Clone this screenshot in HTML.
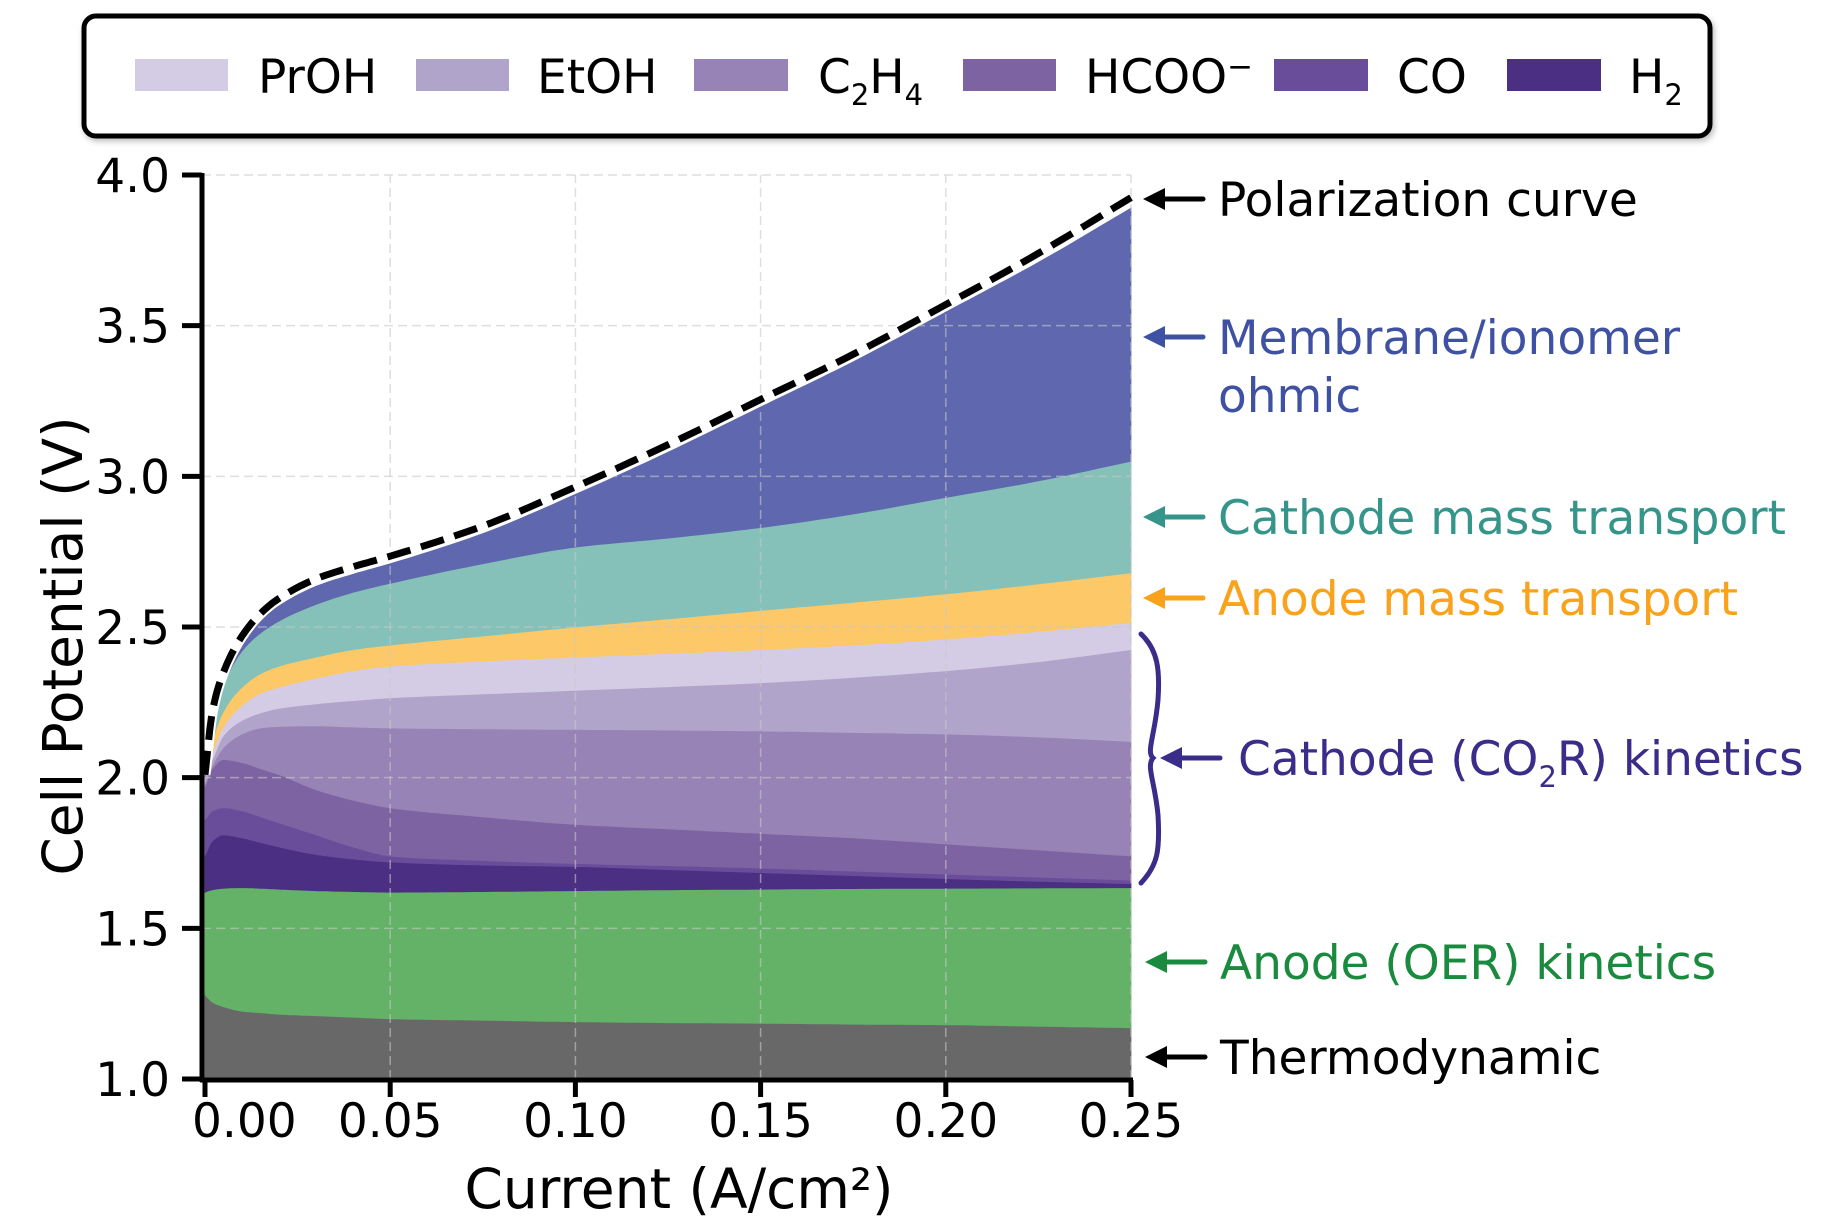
<!DOCTYPE html>
<html><head><meta charset="utf-8">
<style>
html,body{margin:0;padding:0;background:#fff;}
svg{display:block;font-family:"DejaVu Sans","Liberation Sans",sans-serif;}
</style></head>
<body>
<svg id="chart" width="1827" height="1221" viewBox="0 0 1827 1221" xmlns="http://www.w3.org/2000/svg">
  <defs>
    <filter id="shadow" x="-5%" y="-20%" width="110%" height="150%">
      <feDropShadow dx="2" dy="3" stdDeviation="3" flood-color="#000" flood-opacity="0.25"/>
    </filter>
  </defs>
  <g id="areas"></g>
  <g id="grid"></g>
  <g id="pol"></g>
  <g id="axes"></g>

  <!-- Legend -->
  <g>
    <rect x="84" y="16" width="1626" height="120" rx="12" ry="12" fill="#fff" stroke="#000" stroke-width="5" filter="url(#shadow)"/>
    <g font-size="47" fill="#000">
      <rect x="135" y="59" width="93" height="32" fill="#d4cce4"/>
      <text x="258" y="93">PrOH</text>
      <rect x="416" y="59" width="93" height="32" fill="#b1a4cb"/>
      <text x="537" y="93">EtOH</text>
      <rect x="694" y="59" width="94" height="32" fill="#9783b5"/>
      <text x="818" y="93">C<tspan font-size="29" dy="12">2</tspan><tspan dy="-12">H</tspan><tspan font-size="29" dy="12">4</tspan></text>
      <rect x="963" y="59" width="93" height="32" fill="#7e63a3"/>
      <text x="1085" y="93">HCOO<tspan font-size="31" dy="-16">−</tspan></text>
      <rect x="1274" y="59" width="94" height="32" fill="#6a4d9a"/>
      <text x="1397" y="93">CO</text>
      <rect x="1507" y="59" width="94" height="32" fill="#4b2f83"/>
      <text x="1629" y="93">H<tspan font-size="29" dy="12">2</tspan></text>
    </g>
  </g>

  <!-- Annotations -->
  <g font-size="47">
    <g>
      <line x1="1160" y1="199" x2="1203" y2="199" stroke="#000" stroke-width="5" stroke-linecap="round"/>
      <polygon points="1143,199 1165,188 1165,210" fill="#000"/>
      <text x="1218" y="216" fill="#000">Polarization curve</text>
    </g>
    <g fill="#3f51a3">
      <line x1="1160" y1="337" x2="1203" y2="337" stroke="#3f51a3" stroke-width="5" stroke-linecap="round"/>
      <polygon points="1143,337 1165,326 1165,348"/>
      <text x="1218" y="354">Membrane/ionomer</text>
      <text x="1218" y="412">ohmic</text>
    </g>
    <g fill="#35958a">
      <line x1="1160" y1="517" x2="1203" y2="517" stroke="#35958a" stroke-width="5" stroke-linecap="round"/>
      <polygon points="1143,517 1165,506 1165,528"/>
      <text x="1218" y="534">Cathode mass transport</text>
    </g>
    <g fill="#f9a21b">
      <line x1="1160" y1="598" x2="1203" y2="598" stroke="#f9a21b" stroke-width="5" stroke-linecap="round"/>
      <polygon points="1143,598 1165,587 1165,609"/>
      <text x="1218" y="615">Anode mass transport</text>
    </g>
    <g fill="#3a2d8a">
      <path d="M1141,634 C1158,650 1160,670 1158,700 C1155,735 1146,752 1153,758 C1146,766 1155,782 1158,815 C1160,850 1158,865 1141,883" fill="none" stroke="#3a2d8a" stroke-width="5" stroke-linecap="round"/>
      <line x1="1175" y1="758" x2="1220" y2="758" stroke="#3a2d8a" stroke-width="5" stroke-linecap="round"/>
      <polygon points="1160,758 1182,747 1182,769"/>
      <text x="1238" y="775">Cathode (CO<tspan font-size="29" dy="12">2</tspan><tspan dy="-12">R) kinetics</tspan></text>
    </g>
    <g fill="#198a3e">
      <line x1="1162" y1="962" x2="1205" y2="962" stroke="#198a3e" stroke-width="5" stroke-linecap="round"/>
      <polygon points="1145,962 1167,951 1167,973"/>
      <text x="1220" y="979">Anode (OER) kinetics</text>
    </g>
    <g fill="#000">
      <line x1="1162" y1="1057" x2="1205" y2="1057" stroke="#000" stroke-width="5" stroke-linecap="round"/>
      <polygon points="1145,1057 1167,1046 1167,1068"/>
      <text x="1220" y="1074">Thermodynamic</text>
    </g>
  </g>

  <text x="679" y="1208" font-size="55" text-anchor="middle">Current (A/cm²)</text>
  <text transform="translate(82,646) rotate(-90)" font-size="55" text-anchor="middle">Cell Potential (V)</text>
</svg>
<script>
// ---- data ----
const currents = [0, 0.002, 0.005, 0.01, 0.015, 0.02, 0.03, 0.04, 0.05, 0.075, 0.1, 0.125, 0.15, 0.175, 0.2, 0.225, 0.25];
const layerNames = ["thermodynamic","anode-oer","h2","co","hcoo","c2h4","etoh","proh","anode-mass-transport","cathode-mass-transport","membrane-ohmic"];
const thermoTop   = [1.28,1.255,1.24,1.225,1.22,1.215,1.21,1.205,1.20,1.195,1.19,1.187,1.185,1.182,1.18,1.175,1.17];
const oerTop      = [1.62,1.628,1.633,1.635,1.633,1.63,1.625,1.622,1.62,1.622,1.625,1.628,1.63,1.632,1.633,1.634,1.635];
const h2Top       = [1.74,1.79,1.81,1.80,1.785,1.77,1.745,1.73,1.72,1.71,1.705,1.695,1.685,1.675,1.665,1.656,1.648];
const coTop       = [1.86,1.89,1.90,1.89,1.87,1.85,1.81,1.77,1.74,1.725,1.715,1.708,1.70,1.69,1.68,1.67,1.66];
const hcooTop     = [1.97,2.03,2.06,2.05,2.03,2.01,1.96,1.925,1.90,1.87,1.845,1.83,1.815,1.80,1.78,1.76,1.74];
const c2h4Top     = [1.98,2.04,2.10,2.145,2.165,2.17,2.172,2.168,2.165,2.162,2.16,2.158,2.155,2.15,2.145,2.135,2.12];
const etohTop     = [2.00,2.06,2.14,2.19,2.215,2.23,2.245,2.256,2.265,2.278,2.29,2.302,2.315,2.333,2.355,2.385,2.425];
const prohTop     = [2.00,2.08,2.17,2.24,2.28,2.30,2.33,2.355,2.37,2.387,2.40,2.412,2.425,2.44,2.46,2.485,2.515];
const anodeMtTop  = [2.00,2.12,2.22,2.30,2.345,2.37,2.40,2.425,2.44,2.47,2.50,2.527,2.555,2.582,2.61,2.643,2.68];
const cathMtTop   = [2.00,2.19,2.31,2.42,2.48,2.52,2.575,2.615,2.645,2.71,2.765,2.795,2.83,2.875,2.93,2.985,3.05];
const membraneTop = [2.00,2.20,2.33,2.45,2.52,2.57,2.635,2.675,2.71,2.81,2.94,3.08,3.23,3.38,3.545,3.71,3.89];
const polarization= [2.01,2.22,2.35,2.47,2.545,2.595,2.66,2.70,2.735,2.835,2.965,3.105,3.255,3.405,3.57,3.74,3.925];
const layerColors = ["#686868","#64b267","#4b2f83","#6a4d9a","#7e63a3","#9783b5","#b1a4cb","#d4cce4","#fdc867","#85c1b9","#5f68ae"];
const xTicks = [0, 0.05, 0.10, 0.15, 0.20, 0.25];
const xTickLabels = ["0.00","0.05","0.10","0.15","0.20","0.25"];
const yTicks = [1.0, 1.5, 2.0, 2.5, 3.0, 3.5, 4.0];
const yTickLabels = ["1.0","1.5","2.0","2.5","3.0","3.5","4.0"];

// ---- scales ----
const X0 = 205, X1 = 1131, XMAX = 0.25;
const Y0 = 1079, Y1 = 175, VMIN = 1.0, VMAX = 4.0;
function xs(v){ return X0 + (v / XMAX) * (X1 - X0); }
function ys(v){ return Y0 - (v - VMIN) / (VMAX - VMIN) * (Y0 - Y1); }
const NS = "http://www.w3.org/2000/svg";

function smoothPts(vals){
  // monotone cubic (Fritsch-Carlson) -> dense polyline
  const xsP = currents.map(xs), ysP = vals.map(ys), n = xsP.length;
  const d = [], m = new Array(n);
  for (let i=0;i<n-1;i++) d.push((ysP[i+1]-ysP[i])/(xsP[i+1]-xsP[i]));
  m[0]=d[0]; m[n-1]=d[n-2];
  for (let i=1;i<n-1;i++){
    if (d[i-1]*d[i] <= 0) m[i]=0;
    else { const h0=xsP[i]-xsP[i-1], h1=xsP[i+1]-xsP[i];
      const w1=2*h1+h0, w2=h1+2*h0; m[i]=(w1+w2)/(w1/d[i-1]+w2/d[i]); }
  }
  const out=[];
  for (let i=0;i<n-1;i++){
    const h=xsP[i+1]-xsP[i];
    for (let k=0;k<12;k++){
      const t=k/12, t2=t*t, t3=t2*t;
      const h00=2*t3-3*t2+1, h10=t3-2*t2+t, h01=-2*t3+3*t2, h11=t3-t2;
      out.push([xsP[i]+t*h, h00*ysP[i]+h10*h*m[i]+h01*ysP[i+1]+h11*h*m[i+1]]);
    }
  }
  out.push([xsP[n-1], ysP[n-1]]);
  return out;
}

const tops = [thermoTop,oerTop,h2Top,coTop,hcooTop,c2h4Top,etohTop,prohTop,anodeMtTop,cathMtTop,membraneTop];
const areas = document.getElementById('areas');
let prev = null;
tops.forEach((vals, li) => {
  const top = smoothPts(vals);
  const bottom = prev ? prev.slice().reverse() : [[xs(XMAX), ys(VMIN)],[xs(0), ys(VMIN)]];
  const pts = top.concat(bottom);
  const p = document.createElementNS(NS,'path');
  p.setAttribute('d', 'M' + pts.map(q=>q[0].toFixed(1)+','+q[1].toFixed(1)).join('L') + 'Z');
  p.setAttribute('fill', layerColors[li]);
  p.setAttribute('stroke', layerColors[li]);
  p.setAttribute('stroke-width', '0.8');
  
  
  areas.appendChild(p);
  prev = top;
});

// grid
const grid = document.getElementById('grid');
xTicks.forEach((t,i) => {
  if (i===0) return;
  const l = document.createElementNS(NS,'line');
  l.setAttribute('x1', xs(t)); l.setAttribute('x2', xs(t));
  l.setAttribute('y1', ys(VMIN)); l.setAttribute('y2', ys(VMAX));
  l.setAttribute('stroke','#c8c8c8'); l.setAttribute('stroke-opacity','0.6');
  l.setAttribute('stroke-width','1.5'); l.setAttribute('stroke-dasharray','9 5');
  
  
  grid.appendChild(l);
});
yTicks.forEach((t,i) => {
  if (i===0) return;
  const l = document.createElementNS(NS,'line');
  l.setAttribute('x1', 202); l.setAttribute('x2', xs(XMAX));
  l.setAttribute('y1', ys(t)); l.setAttribute('y2', ys(t));
  l.setAttribute('stroke','#c8c8c8'); l.setAttribute('stroke-opacity','0.6');
  l.setAttribute('stroke-width','1.5'); l.setAttribute('stroke-dasharray','9 5');
  
  
  grid.appendChild(l);
});

// polarization curve
const pol = document.getElementById('pol');
const pp = smoothPts(polarization);
const pd = 'M' + pp.map(q=>q[0].toFixed(1)+','+q[1].toFixed(1)).join('L');
const under = document.createElementNS(NS,'path');
under.setAttribute('d', pd); under.setAttribute('fill','none');
under.setAttribute('stroke','#fff'); under.setAttribute('stroke-width','11');


pol.appendChild(under);
const line = document.createElementNS(NS,'path');
line.setAttribute('d', pd); line.setAttribute('fill','none');
line.setAttribute('stroke','#000'); line.setAttribute('stroke-width','7');
line.setAttribute('stroke-dasharray','24 11');


pol.appendChild(line);

// axes
const axes = document.getElementById('axes');
function mk(tag, attrs){ const e=document.createElementNS(NS,tag); for(const k in attrs) e.setAttribute(k, attrs[k]); return e; }
const ySpine = mk('line',{x1:202,x2:202,y1:ys(VMAX)-2,y2:1082,stroke:'#000','stroke-width':5});


axes.appendChild(ySpine);
const xSpine = mk('line',{x1:200,x2:xs(XMAX)+2,y1:1080,y2:1080,stroke:'#000','stroke-width':5});


axes.appendChild(xSpine);
xTicks.forEach((t,i) => {
  const tk = mk('line',{x1:xs(t),x2:xs(t),y1:1080,y2:1097,stroke:'#000','stroke-width':5});
  
  
  axes.appendChild(tk);
  const first = (i===0);
  const tx = mk('text',{x: first ? xs(t)-13 : xs(t), y:1137,'font-size':47,'text-anchor': first ? 'start' : 'middle',fill:'#000'});
  tx.textContent = xTickLabels[i];
  
  
  axes.appendChild(tx);
});
yTicks.forEach((t,i) => {
  const tk = mk('line',{x1:182,x2:202,y1:ys(t),y2:ys(t),stroke:'#000','stroke-width':5});
  
  
  axes.appendChild(tk);
  const tx = mk('text',{x:170,y:ys(t)+17,'font-size':47,'text-anchor':'end',fill:'#000'});
  tx.textContent = yTickLabels[i];
  
  
  axes.appendChild(tx);
});
</script>
</body></html>
